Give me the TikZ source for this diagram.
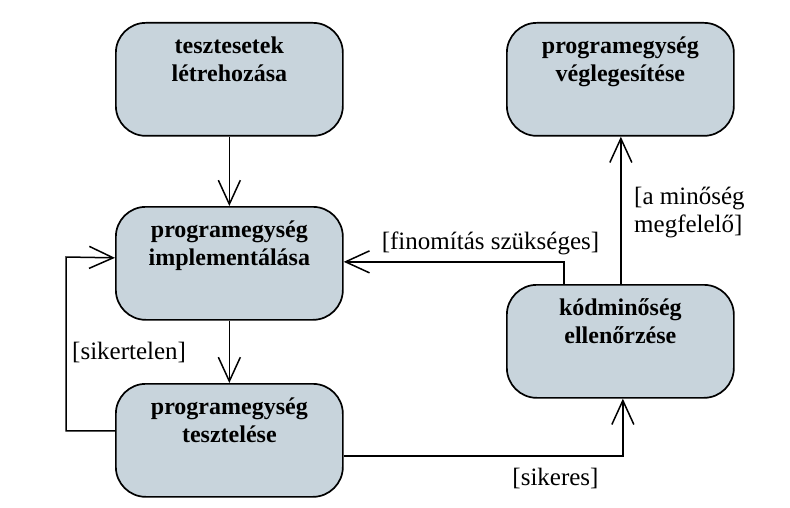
\documentclass[tikz,border=0pt]{standalone}
\usepackage{fontspec}
\setmainfont{Liberation Serif}
\usetikzlibrary{arrows.meta}
\definecolor{boxfill}{RGB}{200,212,220}
\newcommand\statetext[1]{\parbox[t][90pt][t]{224pt}{\centering\bfseries\fontsize{24}{28}\selectfont\rule{0pt}{19pt}#1}}
\begin{document}
\begin{tikzpicture}[x=1pt,y=-1pt,
  state/.style={draw, line width=1.7pt, fill=boxfill, rounded corners=30pt,
    minimum width=227pt, minimum height=113pt, inner sep=0pt, anchor=north west},
  conn/.style={line width=1.5pt, -{Straight Barb[length=24pt,width=22pt,line width=1.5pt]}},
  lbl/.style={font=\fontsize{25}{28}\selectfont, inner sep=0pt}
]
\useasboundingbox (0,0) rectangle (790,508);
\node[state] (b1) at (115,22) {\statetext{tesztesetek\\létrehozása}};
\node[state] (b2) at (115,206) {\statetext{programegység\\implementálása}};
\node[state] (b3) at (115,383) {\statetext{programegység\\tesztelése}};
\node[state] (b4) at (506,284) {\statetext{kódminőség\\ellenőrzése}};
\node[state] (b5) at (506,22) {\statetext{programegység\\véglegesítése}};

\draw[conn] (b1.south) -- (b2.north);
\draw[conn] (b2.south) -- (b3.north);
\draw[conn] ([yshift=9.5pt]b3.west) -| (66,257) -- ([yshift=5.5pt]b2.west);
\draw[conn] ([yshift=-15.5pt]b3.east) -| ([xshift=2.5pt]b4.south);
\draw[conn] ([xshift=-56.5pt]b4.north) |- ([yshift=1.5pt]b2.east);
\draw[conn] ([xshift=0.5pt]b4.north) -- ([xshift=0.5pt]b5.south);

\node[lbl, anchor=west] (l1) at (72,352) {[sikertelen]};
\node[lbl] (l2) at (555.5,478) {[sikeres]};
\node[lbl] (l3) at (490.5,243) {[finomítás szükséges]};
\node[lbl, anchor=west, align=left] (l4) at (634,213) {[a minőség\\megfelelő]};
\end{tikzpicture}
\end{document}
